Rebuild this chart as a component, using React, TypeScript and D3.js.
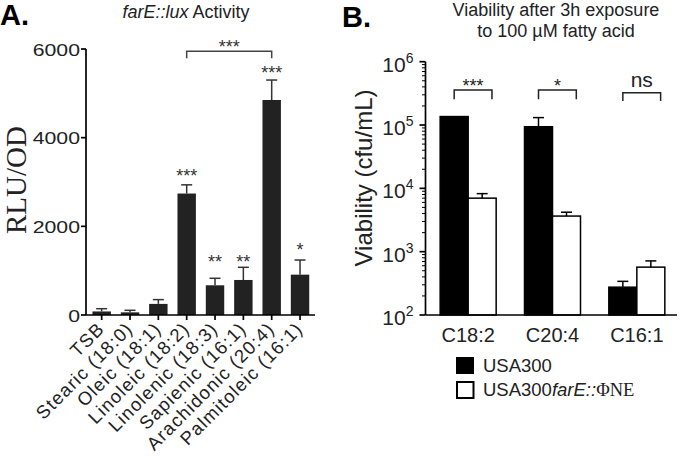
import React from "react";
import * as d3 from "d3";

const SANS = "'Liberation Sans', Arial, Helvetica, sans-serif";
const SERIF = "'Liberation Serif', 'Times New Roman', serif";

// Panel A data
const catsA = ["TSB", "Stearic (18:0)", "Oleic (18:1)", "Linoleic (18:2)", "Linolenic (18:3)", "Sapienic (16:1)", "Arachidonic (20:4)", "Palmitoleic (16:1)"];
const meanA = [80, 60, 250, 2740, 670, 790, 4850, 910];
const errA = [62, 46, 97, 196, 158, 286, 450, 330];
const starsA = ["", "", "", "***", "**", "**", "***", "*"];
const starLevelA = [0, 0, 0, 2990, 1060, 1060, 5330, 1320];
const ticksA = [0, 2000, 4000, 6000];
const bracketA = { from: 3, to: 6, level: 5950, leg: 5790, label: "***" };

// Panel B data
const groupsB = ["C18:2", "C20:4", "C16:1"];
const seriesB = ["USA300", "farE"];
const usa300 = [136000, 94000, 275];
const usa300Err = [0, 37000, 65];
const farE = [7000, 3650, 570];
const farEErr = [1250, 550, 145];
const sigB = ["***", "*", "ns"];
const bracketLevelB = [357000, 357000, 324000];
const bracketLegB = [255000, 255000, 239000];
const majorB = [1e2, 1e3, 1e4, 1e5, 1e6];
const expB = [2, 3, 4, 5, 6];

export default function App() {
  // ---- Panel A ----
  const yA = d3.scaleLinear().domain([0, 6000]).range([315, 49]);
  const xA = d3.scaleBand<string>().domain(catsA).range([87.5, 314.2]).paddingInner(0.35).paddingOuter(0.175);
  const bwA = xA.bandwidth();
  const cxA = (i: number) => (xA(catsA[i]) as number) + bwA / 2;
  const axA = 86;
  const capW = 11;

  // ---- Panel B ----
  const yB = d3.scaleLog().domain([1e2, 1e6]).range([315, 61.7]);
  const xB = d3.scaleBand<string>().domain(groupsB).range([426, 679]).paddingInner(0.336).paddingOuter(0.168);
  const xSub = d3.scaleBand<string>().domain(seriesB).range([0, xB.bandwidth()]);
  const bwB = xSub.bandwidth();
  const axB = 425.5;
  const minorB: number[] = [];
  for (let d = 2; d < 6; d++) for (let k = 2; k <= 9; k++) minorB.push(k * Math.pow(10, d));

  const valsB = [usa300, farE];
  const errsB = [usa300Err, farEErr];

  return (
    <svg width={680} height={457} style={{ position: "absolute", left: 0, top: 0, background: "#fff" }} fontFamily={SANS}>
      <rect x={0} y={0} width={680} height={457} fill="#fff" />
      {/* ===== Panel A ===== */}
      <text x={0} y={25} fontSize={29} fontWeight="bold">A.</text>
      <text x={186} y={18} fontSize={18} textAnchor="middle" fill="#222">
        <tspan fontStyle="italic">farE::lux</tspan> Activity
      </text>
      <text transform={`translate(26,180) rotate(-90)`} textAnchor="middle" fontFamily={SERIF} fontSize={29} fill="#222">RLU/OD</text>

      {/* bars */}
      {catsA.map((c, i) => (
        <rect key={c} x={xA(c)} y={yA(meanA[i])} width={bwA} height={yA(0) - yA(meanA[i])} fill="#222" />
      ))}
      {/* error bars */}
      {catsA.map((c, i) => {
        const x = cxA(i);
        const y1 = yA(meanA[i]);
        const y2 = yA(meanA[i] + errA[i]);
        return (
          <g key={"e" + c} stroke="#333" strokeWidth={1.5}>
            <line x1={x} x2={x} y1={y1} y2={y2} />
            <line x1={x - capW / 2} x2={x + capW / 2} y1={y2} y2={y2} />
          </g>
        );
      })}
      {/* stars */}
      {catsA.map((c, i) =>
        starsA[i] ? (
          <text key={"s" + c} x={cxA(i)} y={yA(starLevelA[i])} textAnchor="middle" fontSize={18} fill="#333">{starsA[i]}</text>
        ) : null
      )}
      {/* bracket */}
      <path
        d={`M${cxA(bracketA.from)},${yA(bracketA.leg)}V${yA(bracketA.level)}H${cxA(bracketA.to)}V${yA(bracketA.leg)}`}
        fill="none" stroke="#444" strokeWidth={1.5}
      />
      <text x={(cxA(bracketA.from) + cxA(bracketA.to)) / 2} y={yA(bracketA.level) + 1.5} textAnchor="middle" fontSize={18} fill="#333">{bracketA.label}</text>

      {/* axes A */}
      <g stroke="#000" strokeWidth={1.7}>
        <line x1={axA} x2={axA} y1={yA(6000)} y2={yA(0)} />
        <line x1={axA} x2={315} y1={yA(0)} y2={yA(0)} />
        {ticksA.map((t) => (
          <line key={"t" + t} x1={axA - 5} x2={axA} y1={yA(t)} y2={yA(t)} />
        ))}
        {catsA.map((c, i) => (
          <line key={"xt" + c} x1={cxA(i)} x2={cxA(i)} y1={yA(0)} y2={yA(0) + 5} />
        ))}
      </g>
      {ticksA.map((t) => (
        <text key={"tl" + t} transform={`translate(${axA - 6},${yA(t) + 6.5}) scale(1.25,1)`} textAnchor="end" fontSize={17} fill="#222">{t}</text>
      ))}
      {catsA.map((c, i) => (
        <text key={"xl" + c} transform={`translate(${cxA(i) + 4},${yA(0) + 15}) rotate(-45)`} textAnchor="end" fontSize={18.5} letterSpacing={1.2} fill="#222">{c}</text>
      ))}

      {/* ===== Panel B ===== */}
      <text x={342} y={27} fontSize={29} fontWeight="bold">B.</text>
      <text x={556} y={16} fontSize={18} textAnchor="middle" fill="#222">Viability after 3h exposure</text>
      <text x={556} y={37} fontSize={18} textAnchor="middle" fill="#222">to 100 µM fatty acid</text>
      <text transform={`translate(372,178) rotate(-90)`} textAnchor="middle" fontSize={24} fill="#222">Viability (cfu/mL)</text>

      {/* bars */}
      {groupsB.map((g, gi) =>
        seriesB.map((s, si) => {
          const x = (xB(g) as number) + (xSub(s) as number);
          const v = valsB[si][gi];
          const e = errsB[si][gi];
          const cx = x + bwB / 2;
          return (
            <g key={g + s}>
              <rect x={x} y={yB(v)} width={bwB} height={yB(1e2) - yB(v)} fill={si === 0 ? "#000" : "#fff"} stroke="#000" strokeWidth={1.5} />
              {e > 0 && (
                <g stroke="#000" strokeWidth={1.5}>
                  <line x1={cx} x2={cx} y1={yB(v)} y2={yB(v + e)} />
                  <line x1={cx - capW / 2} x2={cx + capW / 2} y1={yB(v + e)} y2={yB(v + e)} />
                </g>
              )}
            </g>
          );
        })
      )}
      {/* brackets */}
      {groupsB.map((g, gi) => {
        const x0 = (xB(g) as number) + (xSub("USA300") as number) + bwB / 2;
        const x1 = (xB(g) as number) + (xSub("farE") as number) + bwB * 0.85;
        const yl = yB(bracketLevelB[gi]);
        const yg = yB(bracketLegB[gi]);
        const ns = sigB[gi] === "ns";
        return (
          <g key={"b" + g}>
            <path d={`M${x0},${yg}V${yl}H${x1}V${yg}`} fill="none" stroke="#222" strokeWidth={1.5} />
            <text x={(x0 + x1) / 2} y={ns ? yl - 6 : yl + 1.5} textAnchor="middle" fontSize={ns ? 21 : 18} fill="#222">{sigB[gi]}</text>
          </g>
        );
      })}

      {/* axes B */}
      <g stroke="#000" strokeWidth={1.7}>
        <line x1={axB} x2={axB} y1={yB(1e6)} y2={yB(1e2)} />
        <line x1={axB} x2={677} y1={yB(1e2)} y2={yB(1e2)} />
        {majorB.map((t) => (
          <line key={"mt" + t} x1={axB - 6} x2={axB} y1={yB(t)} y2={yB(t)} />
        ))}
      </g>
      <g stroke="#000" strokeWidth={1}>
        {minorB.map((t) => (
          <line key={"mn" + t} x1={axB - 3.5} x2={axB} y1={yB(t)} y2={yB(t)} />
        ))}
      </g>
      {majorB.map((t, i) => (
        <text key={"ml" + t} x={axB - 12} y={yB(t) + 10} textAnchor="end" fontSize={21} fill="#222">
          10<tspan fontSize={14} dy={-9}>{expB[i]}</tspan>
        </text>
      ))}
      {groupsB.map((g) => (
        <text key={"gl" + g} x={(xB(g) as number) + xB.bandwidth() / 2} y={342} textAnchor="middle" fontSize={20} fill="#222">{g}</text>
      ))}

      {/* legend */}
      <rect x={456} y={357} width={18} height={17} fill="#000" />
      <text x={483} y={372} fontSize={18.5} fill="#222">USA300</text>
      <rect x={457} y={382} width={16.5} height={16} fill="#fff" stroke="#000" strokeWidth={2} />
      <text x={483} y={396} fontSize={18.5} fill="#222">
        USA300<tspan fontStyle="italic">farE::</tspan><tspan fontFamily={SERIF}>ΦNE</tspan>
      </text>
    </svg>
  );
}
